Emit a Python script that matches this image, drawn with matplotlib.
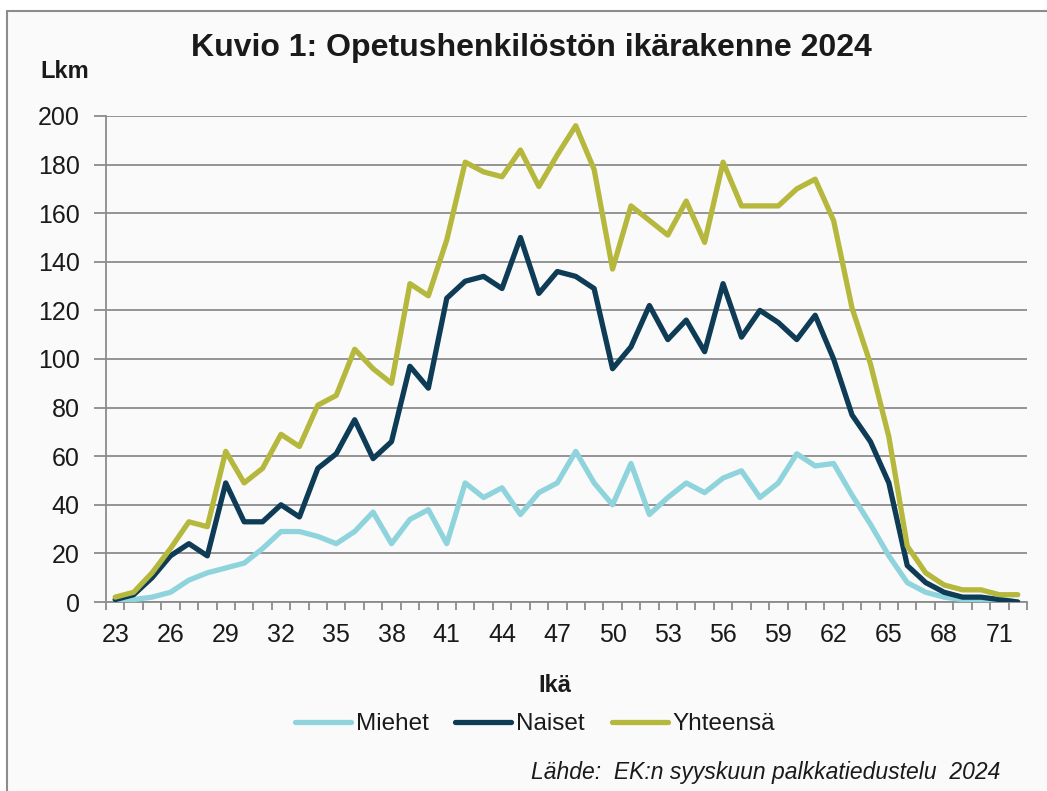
import matplotlib
matplotlib.use("Agg")
import matplotlib.pyplot as plt
from matplotlib.patches import Rectangle

plt.rcParams['font.family'] = ['Liberation Sans', 'DejaVu Sans']

ages = list(range(23, 73))
miehet = [1, 1, 2, 4, 9, 12, 14, 16, 22, 29, 29, 27, 24, 29, 37, 24, 34, 38, 24, 49,
          43, 47, 36, 45, 49, 62, 49, 40, 57, 36, 43, 49, 45, 51, 54, 43, 49, 61, 56, 57,
          44, 32, 19, 8, 4, 2, 1, 1, 1, 0]
naiset = [1, 3, 10, 19, 24, 19, 49, 33, 33, 40, 35, 55, 61, 75, 59, 66, 97, 88, 125, 132,
          134, 129, 150, 127, 136, 134, 129, 96, 105, 122, 108, 116, 103, 131, 109, 120, 115, 108, 118, 100,
          77, 66, 49, 15, 8, 4, 2, 2, 1, 0]
yhteensa = [2, 4, 12, 22, 33, 31, 62, 49, 55, 69, 64, 81, 85, 104, 96, 90, 131, 126, 149, 181,
            177, 175, 186, 171, 184, 196, 178, 137, 163, 157, 151, 165, 148, 181, 163, 163, 163, 170, 174, 157,
            121, 98, 68, 23, 12, 7, 5, 5, 3, 3]
series_names = ["Miehet", "Naiset", "Yhteensä"]
colors = ["#8fd4dc", "#0e3b55", "#b5b83c"]

W, H = 1047, 791
fig = plt.figure(figsize=(W / 100, H / 100), dpi=100)
fig.patch.set_facecolor("white")

# chart area frame
fig.patches.append(Rectangle((7 / W, -0.01), 1.02, 1 - 11 / H + 0.01, transform=fig.transFigure,
                             facecolor="#fafafa", edgecolor="#8c8c8c", linewidth=1.5, zorder=-5))

ax = fig.add_axes([106 / W, 1 - 602 / H, (1027 - 106) / W, (602 - 116) / H])
ax.set_facecolor("#fafafa")

for vals, name, c in zip([miehet, naiset, yhteensa], series_names, colors):
    ax.plot(ages, vals, color=c, lw=3.8, label=name, solid_joinstyle="round",
            solid_capstyle="round", zorder=3)

ax.set_xlim(22.5, 72.5)
ax.set_ylim(0, 200)
ax.set_yticks(range(0, 201, 20))
ax.set_xticks(ages[::3])
ax.set_xticks([a - 0.5 for a in ages] + [72.5], minor=True)
ax.grid(axis="y", color="#8c8c8c", lw=1.3, zorder=1)
ax.set_axisbelow(True)

for s in ["top", "right"]:
    ax.spines[s].set_visible(False)
for s in ["left", "bottom"]:
    ax.spines[s].set_color("#8c8c8c")
    ax.spines[s].set_linewidth(1.3)

ax.tick_params(axis="y", length=9, width=1.3, color="#8c8c8c", labelsize=18, pad=10, labelcolor="#1a1a1a")
ax.tick_params(axis="x", which="major", length=0, labelsize=18, pad=15, labelcolor="#1a1a1a")
ax.tick_params(axis="x", which="minor", length=6, width=1.3, color="#8c8c8c")

fig.text(531 / W, 1 - 48 / H, "Kuvio 1: Opetushenkilöstön ikärakenne 2024", ha="center", va="center",
         fontsize=23, fontweight="bold", color="#1a1a1a")
fig.text(40 / W, 1 - 72 / H, "Lkm", ha="left", va="center", fontsize=17, fontweight="bold", color="#1a1a1a")
fig.text(555 / W, 1 - 686 / H, "Ikä", ha="center", va="center", fontsize=17, fontweight="bold", color="#1a1a1a")
fig.text(1000 / W, 1 - 773 / H, "Lähde:  EK:n syyskuun palkkatiedustelu  2024", ha="right", va="center",
         fontsize=16.5, style="italic", color="#1a1a1a")

leg = fig.legend(loc="center", bbox_to_anchor=(535 / W, 1 - 724 / H), ncol=3, frameon=False,
                 fontsize=17.5, handlelength=2.3, handletextpad=0.2, columnspacing=1.1)
for t in leg.get_texts():
    t.set_color("#1a1a1a")

fig.savefig("out.png", dpi=100, facecolor=fig.get_facecolor())
